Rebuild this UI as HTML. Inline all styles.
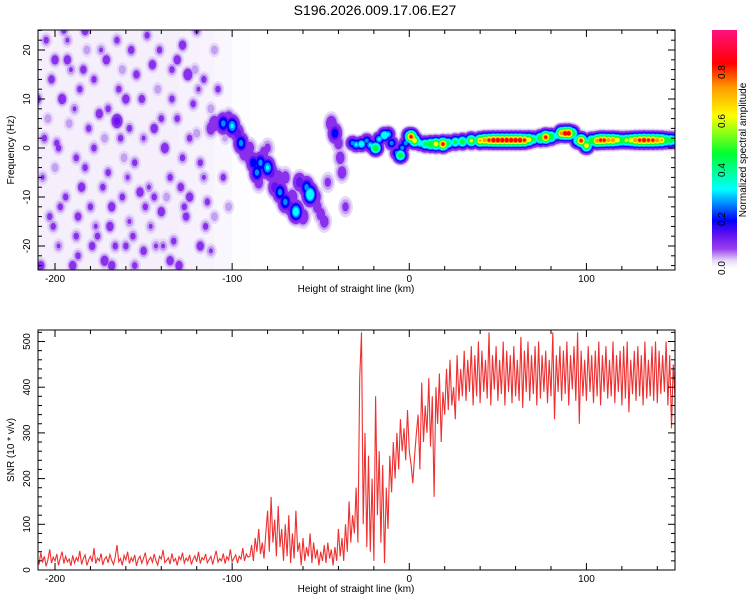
<!DOCTYPE html>
<html><head><meta charset="utf-8"><style>
body{margin:0;background:#fff;}
svg{display:block;font-family:"Liberation Sans",sans-serif;}
</style></head><body>
<svg id="chart" width="750" height="600" viewBox="0 0 750 600" xmlns="http://www.w3.org/2000/svg">
<defs>
<clipPath id="clipTop"><rect x="38" y="30" width="637" height="240"/></clipPath>
<clipPath id="clipBot"><rect x="38" y="330" width="637" height="240"/></clipPath>
<linearGradient id="cbGrad" x1="0" y1="1" x2="0" y2="0">
<stop offset="0" stop-color="#ffffff"/><stop offset="0.03" stop-color="#e8dcf8"/>
<stop offset="0.08" stop-color="#9a40ee"/><stop offset="0.14" stop-color="#6010f0"/>
<stop offset="0.2" stop-color="#0000ff"/><stop offset="0.33" stop-color="#00ffff"/>
<stop offset="0.48" stop-color="#00ff30"/><stop offset="0.64" stop-color="#ffff00"/>
<stop offset="0.76" stop-color="#ff9900"/><stop offset="0.86" stop-color="#ff0000"/>
<stop offset="1" stop-color="#ff1080"/>
</linearGradient>
</defs>
<text x="375" y="15" text-anchor="middle" font-size="14" fill="#000">S196.2026.009.17.06.E27</text>
<g id="topPlot">
<g id="heat" clip-path="url(#clipTop)"></g>
<rect x="38" y="30" width="637" height="240" fill="none" stroke="#000" stroke-width="1"/>
<g id="topAxes"></g>
</g>
<g id="botPlot">
<g id="line" clip-path="url(#clipBot)"></g>
<rect x="38" y="330" width="637" height="240" fill="none" stroke="#000" stroke-width="1"/>
<g id="botAxes"></g>
</g>
<g id="colorbar">
<rect x="712" y="30" width="25" height="238" fill="url(#cbGrad)"/>
<g id="cbAxis"></g>
<text transform="translate(746,150) rotate(-90)" text-anchor="middle" font-size="10">Normalized spectral amplitude</text>
</g>
<text transform="translate(14,150) rotate(-90)" text-anchor="middle" font-size="10">Frequency (Hz)</text>
<text x="356" y="292" text-anchor="middle" font-size="10">Height of straight line (km)</text>
<text transform="translate(14,450) rotate(-90)" text-anchor="middle" font-size="10">SNR (10 * v/v)</text>
<text x="356" y="592" text-anchor="middle" font-size="10">Height of straight line (km)</text>
</svg>
<script>
// ---------- data ----------
const xTicks = [-200, -100, 0, 100];
const freqTicks = [-20, -10, 0, 10, 20];
const snrTicks = [0, 100, 200, 300, 400, 500];
const cbTicks = [0.0, 0.2, 0.4, 0.6, 0.8];
// ridge of the spectrogram: km, Hz, amplitude
const ridgeKm = [-32,-30,-27,-24,-22,-19,-17,-14,-12,-10,-7,-5,-4,-2,0,1,3,6,9,12,15,19,22,26,30,35,40,42.5,45,47.5,50,52.5,55,57.5,60,62.5,65,67.5,70,74,77,80,83,86,88,90,92,95,97,99,100,103,106,108,110,112.5,115,117.5,120,122.5,125,127.5,130,132.5,135,137.5,140,142.5,145,147.5,150];
const ridgeHz = [1,0.7,0.8,1.5,0.6,0,1.8,2.6,2.8,1,-1,-1.5,0,1,2.5,2.3,1.5,1,0.8,0.8,0.8,0.8,1,1.2,1.3,1.5,1.5,1.6,1.6,1.6,1.6,1.6,1.6,1.6,1.6,1.6,1.6,1.7,1.8,2,2.2,2.3,2.5,3,3,3,3,1.5,1.5,0.7,0.5,1.5,1.5,1.6,1.6,1.6,1.6,1.6,1.6,1.6,1.6,1.6,1.6,1.6,1.6,1.6,1.6,1.6,1.6,1.6,1.6];
const ridgeAmp = [0.3,0.35,0.4,0.3,0.35,0.6,0.35,0.45,0.35,0.3,0.3,0.55,0.3,0.3,0.5,0.85,0.7,0.4,0.5,0.6,0.7,0.85,0.5,0.5,0.55,0.65,0.75,0.8,0.85,0.9,0.9,0.9,0.9,0.9,0.9,0.9,0.85,0.7,0.5,0.6,0.85,0.6,0.4,0.8,0.9,0.9,0.6,0.5,0.85,0.4,0.7,0.6,0.8,0.85,0.85,0.8,0.8,0.7,0.6,0.65,0.7,0.8,0.85,0.88,0.85,0.85,0.8,0.75,0.6,0.55,0.5];
// slanted structures
const slantKm = [-110,-105,-100,-97,-95,-93,-90,-88,-86,-84,-80,-78,-76,-73,-70,-67,-64,-60,-62,-58,-56,-53,-52,-50,-48,-44,-42,-40,-39,-38,-90,-85,-112,-80,-102,-74,-66,-82,-70,-36,-46];
const slantHz = [5,5,4.5,3,1,-1,-2,-3,-5,-3,-4,-5,-8,-9,-11,-12,-13,-14,-7,-8,-9.5,-10,-12,-13.5,-15,5,3,1,-2,-5,0,-7,4,0,6,-6,-10,-1,-6,-12,-7];
const slantAmp = [0.15,0.3,0.35,0.2,0.3,0.15,0.15,0.25,0.3,0.3,0.35,0.2,0.2,0.3,0.3,0.2,0.4,0.15,0.2,0.3,0.45,0.15,0.12,0.12,0.12,0.15,0.25,0.12,0.12,0.12,0.12,0.12,0.12,0.1,0.14,0.14,0.14,0.12,0.12,0.1,0.1];
// scattered noise blobs on the left
const noiseKm = [-205,-200,-196,-192,-188,-185,-203,-198,-190,-182,-178,-175,-172,-170,-168,-176,-172,-165,-162,-160,-158,-165,-155,-152,-158,-150,-148,-145,-142,-140,-138,-135,-140,-133,-130,-128,-125,-122,-120,-118,-124,-115,-112,-110,-108,-105,-102,-206,-194,-186,-180,-188,-162,-146,-134,-118,-200,-178,-150,-128,-112,-210,-208,-195,-168,-120,-135,-155,-184,-170,-144,-126,-198,-160,-116,
-207,-202,-197,-193,-189,-183,-179,-174,-169,-164,-159,-154,-149,-144,-139,-134,-129,-124,-119,-114,-204,-199,-191,-187,-181,-177,-171,-166,-161,-156,-151,-147,-141,-137,-131,-126,-121,-116,-110,-104,-183,-173,-157,-143,-131,-127,-201,-193,-187,-163];
const noiseHz = [22,18,10,5,-2,-8,-14,-20,-24,20,14,7,2,-5,-12,-18,-23,22,16,10,4,5.5,-3,-9,-15,-21,23,17,12,6,0,-6,-13,-19,-24,21,15,9,3,-3,-10,-16,-21,20,12,-6,-12,2,-10,12,-12,-18,-10,-16,10,-20,-4,0,2,-2,8,10,-24,24,-24,24,-23,-24,16,8,-10,-14,0,-20,14,
-6,14,-12,18,8,-4,-20,20,-16,12,-6,15,-12,4,-20,16,-8,2,12,-11,6,1,16,-14,4,-16,18,-20,-2,-18,10,-8,20,-10,6,-14,16,-6,-14,2,24,-8,20,-20,18,-12,-16,22,-22,2];
const noiseAmp = [0.1,0.12,0.13,0.08,0.1,0.12,0.1,0.09,0.12,0.08,0.1,0.12,0.08,0.1,0.12,0.1,0.13,0.1,0.08,0.12,0.1,0.2,0.1,0.12,0.09,0.11,0.1,0.12,0.08,0.1,0.13,0.1,0.12,0.1,0.12,0.12,0.15,0.1,0.08,0.1,0.12,0.1,0.09,0.08,0.1,0.1,0.08,0.1,0.1,0.1,0.1,0.1,0.1,0.09,0.1,0.12,0.08,0.1,0.09,0.1,0.08,0.12,0.12,0.1,0.12,0.1,0.12,0.1,0.11,0.1,0.1,0.11,0.1,0.1,0.1,
0.09,0.11,0.1,0.12,0.09,0.1,0.11,0.09,0.12,0.1,0.09,0.11,0.1,0.12,0.09,0.1,0.11,0.1,0.09,0.1,0.08,0.1,0.09,0.11,0.1,0.09,0.12,0.1,0.08,0.1,0.11,0.09,0.1,0.08,0.1,0.09,0.08,0.09,0.08,0.07,0.12,0.1,0.11,0.09,0.12,0.1,0.1,0.09,0.1,0.1];
// noise floor wash per 10 km column
const floorKm = [-210,-200,-190,-180,-170,-160,-150,-140,-130,-120,-110,-100];
const floorAmp = [0.05,0.05,0.05,0.05,0.05,0.05,0.05,0.05,0.045,0.04,0.03,0.01];
// SNR per km from -210 to 150
const snrStart = -210;
const snrValues = [
25,12,38,18,30,8,22,45,15,28,20,35,10,26,40,14,30,18,24,9,
32,15,27,20,42,12,25,33,10,22,30,18,48,14,26,20,36,11,24,29,
16,34,21,12,28,55,18,25,10,32,22,40,14,27,19,33,9,24,30,15,
26,38,12,22,28,17,35,20,11,30,24,44,16,21,27,13,36,19,25,10,
29,22,38,15,26,20,33,12,24,31,18,40,14,27,22,35,16,23,30,12,
28,42,17,25,20,36,14,29,22,45,18,26,33,15,30,24,48,20,35,28,
30,55,20,70,40,90,35,60,25,80,130,40,160,60,110,30,140,50,90,20,
100,30,120,15,80,25,130,40,60,10,70,20,50,30,80,15,60,25,45,10,
40,20,55,15,60,25,45,10,50,20,90,30,70,20,100,40,150,60,120,80,
180,60,420,520,100,300,50,250,40,200,20,380,120,260,60,230,15,180,90,250,
170,280,200,300,220,330,260,310,240,350,260,230,190,250,300,340,220,410,280,360,
300,420,270,380,160,400,320,430,280,390,340,440,350,460,360,400,330,470,370,440,
380,480,370,460,390,490,360,470,380,500,365,480,390,460,375,520,360,470,395,490,
370,460,385,500,360,480,390,470,365,490,380,460,370,510,355,480,390,500,370,470,
385,490,360,500,375,470,390,480,365,460,380,520,330,470,390,490,370,480,385,500,
360,470,395,490,370,520,320,480,380,460,370,490,390,470,365,480,380,500,360,470,
390,490,375,460,380,500,365,470,390,480,360,490,375,500,345,460,385,480,370,490,
380,470,360,500,375,460,380,490,370,500,365,480,385,470,390,500,360,470,310,450,380
];
// ---------- scales ----------
const X0=38, X1=675, KM0=-209.6, KM1=150;
function xs(km){return X0+(km-KM0)*(X1-X0)/(KM1-KM0);}
function yf(hz){return 148-hz*4.9;}
function yv(v){return 570-v*0.457;}
function yc(a){return 268-a*245;}
const NS="http://www.w3.org/2000/svg";
function mk(tag,attrs,parent){const e=document.createElementNS(NS,tag);for(const k in attrs)e.setAttribute(k,attrs[k]);parent.appendChild(e);return e;}
const levels=[0.03,0.055,0.08,0.15,0.2,0.27,0.33,0.45,0.6,0.72,0.8,0.93];
const lcolors=["#e6d8f8","#c4a0f2","#8a30ec","#6414f0","#0000ff","#0090ff","#00ffff","#00ff40","#ffff00","#ff9900","#ff0000","#ff1070"];
// ---------- heatmap ----------
const heat=document.getElementById('heat');
for(let i=0;i<floorKm.length;i++){
  const r=mk('rect',{x:xs(floorKm[i]),y:30,width:xs(floorKm[i]+10)-xs(floorKm[i]),height:240,fill:'#e8dcf8','fill-opacity':Math.min(1,floorAmp[i]*9)},heat);
  
  
}
const blobs=[];
for(let i=0;i<noiseKm.length;i++)blobs.push([noiseKm[i],noiseHz[i],noiseAmp[i],3.2,1.5]);
for(let i=0;i<slantKm.length;i++)blobs.push([slantKm[i],slantHz[i],slantAmp[i],3.8,2.0]);
for(let i=0;i<ridgeKm.length;i++)blobs.push([ridgeKm[i],ridgeHz[i],ridgeAmp[i],3.4,1.3]);
for(let l=0;l<levels.length;l++){
  for(const b of blobs){
    if(b[2]<=levels[l])continue;
    const s=Math.sqrt(Math.log(b[2]/levels[l]));
    const e=mk('ellipse',{cx:xs(b[0]),cy:yf(b[1]),rx:s*b[3]*1.771,ry:s*b[4]*4.9,fill:lcolors[l]},heat);
    
    
  }
}
// ---------- SNR line ----------
const pts=snrValues.map((v,i)=>xs(snrStart+i).toFixed(1)+','+yv(v).toFixed(1)).join(' ');
const pl=mk('polyline',{points:pts,fill:'none',stroke:'#ee3030','stroke-width':1.1},document.getElementById('line'));


// ---------- axes ----------
function axesFor(g,top,bot,yTicks,yfun,minorStep,yMin,yMax,minorY){
  for(let k=-200;k<=140;k+=20){
    const x=xs(k), len=(k%100===0)?7:4;
    mk('line',{x1:x,y1:bot,x2:x,y2:bot-len,stroke:'#000'},g);
    mk('line',{x1:x,y1:top,x2:x,y2:top+len,stroke:'#000'},g);
  }
  for(let v=yMin;v<=yMax;v+=minorY){
    const y=yfun(v); if(y<top-0.5||y>bot+0.5)continue;
    const major=yTicks.includes(v), len=major?7:4;
    mk('line',{x1:X0,y1:y,x2:X0+len,y2:y,stroke:'#000'},g);
    mk('line',{x1:X1,y1:y,x2:X1-len,y2:y,stroke:'#000'},g);
  }
  for(const k of xTicks){
    const t=mk('text',{x:xs(k),y:bot+12,'text-anchor':'middle','font-size':10},g);
    t.textContent=k;
    
    
  }
  for(const v of yTicks){
    const y=yfun(v);
    const t=mk('text',{transform:`translate(30,${y}) rotate(-90)`,'text-anchor':'middle','font-size':10},g);
    t.textContent=v;
    
    
  }
}
axesFor(document.getElementById('topAxes'),30,270,freqTicks,yf,2,-24,24,2);
axesFor(document.getElementById('botAxes'),330,570,snrTicks,yv,20,0,520,20);
const cb=document.getElementById('cbAxis');
for(const a of cbTicks){
  const t=mk('text',{transform:`translate(725,${yc(a)}) rotate(-90)`,'text-anchor':'middle','font-size':10},cb);
  t.textContent=a.toFixed(1);
  
  
}
</script>
</body></html>
